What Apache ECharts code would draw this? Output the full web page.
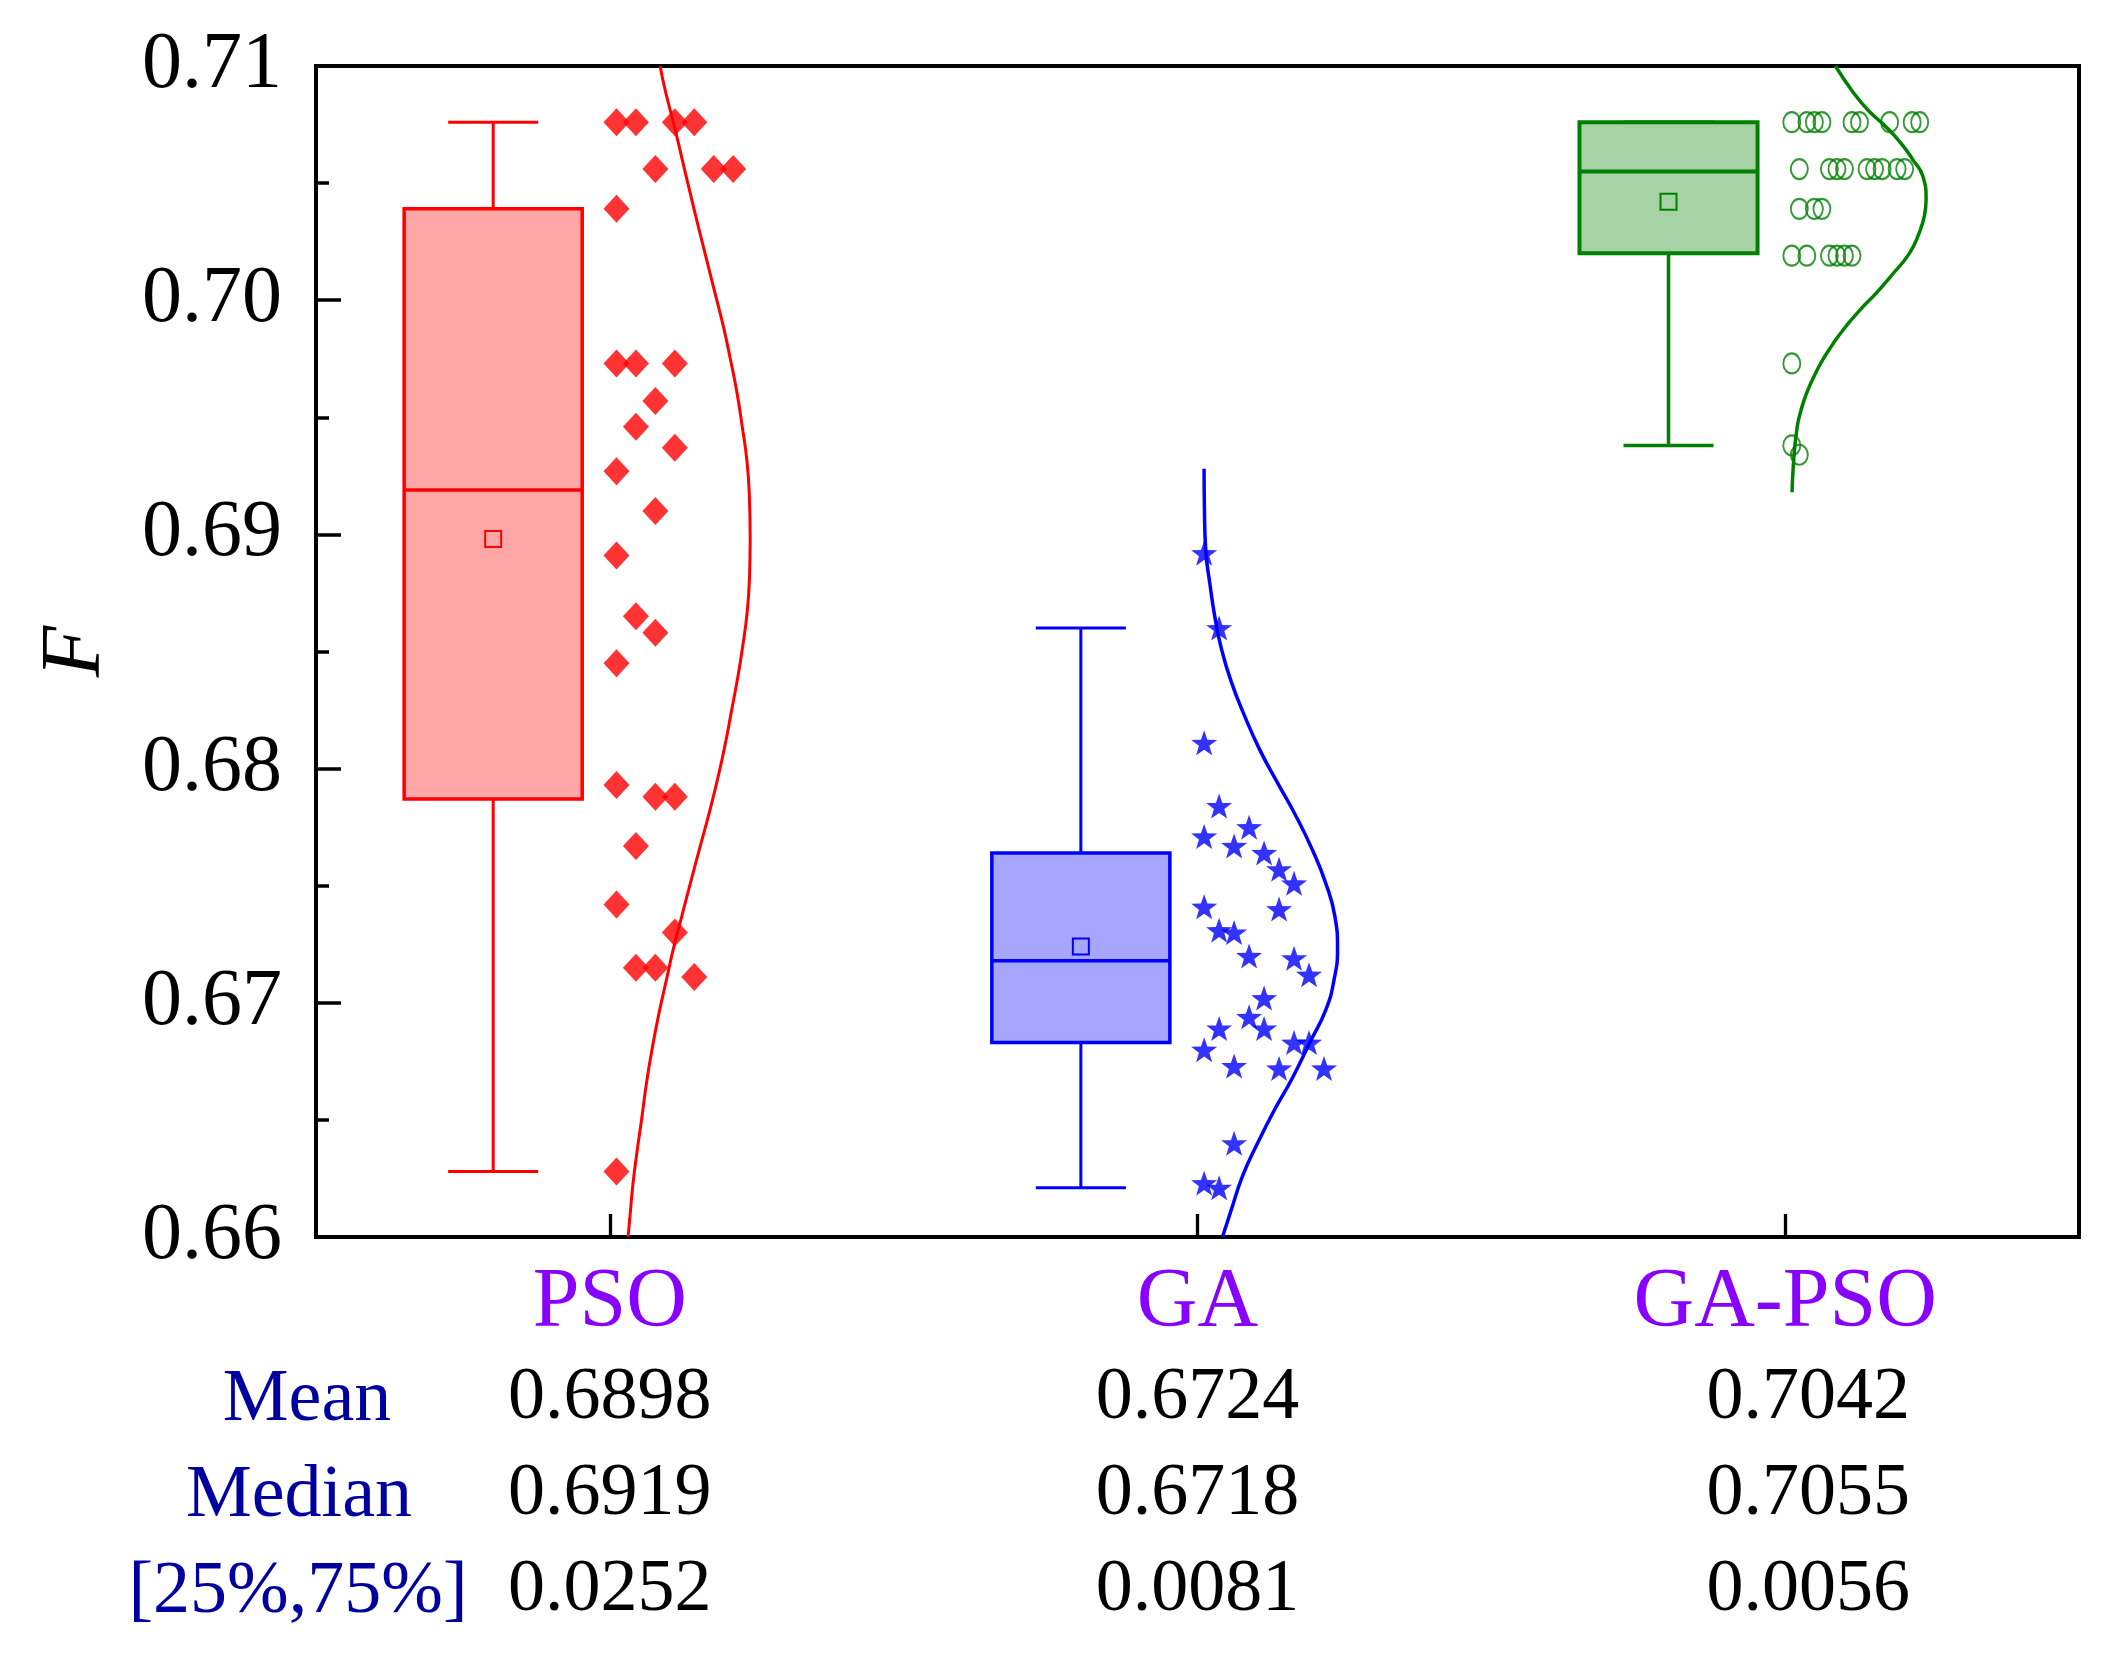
<!DOCTYPE html>
<html>
<head>
<meta charset="utf-8">
<script src="https://cdn.jsdelivr.net/npm/echarts@6/dist/echarts.min.js"></script>
<style>
html,body{margin:0;padding:0;background:#ffffff;}
#chart{width:2106px;height:1655px;}
</style>
</head>
<body>
<div id="chart"></div>
<script>
// ---------------- data ----------------
const categories = ['PSO', 'GA', 'GA-PSO'];
const yMin = 0.66, yMax = 0.71, yStep = 0.01;

const rowHeaders   = ['Mean', 'Median', '[25%,75%]'];
const meanLabels   = ['0.6898', '0.6724', '0.7042'];
const medianLabels = ['0.6919', '0.6718', '0.7055'];
const iqrLabels    = ['0.0252', '0.0081', '0.0056'];

// [min, Q1, median, Q3, max, mean]
const statsPSO   = [0.6628, 0.6787, 0.6919, 0.7039, 0.7076, 0.6898];
const statsGA    = [0.6621, 0.6683, 0.6718, 0.6764, 0.6860, 0.6724];
const statsGAPSO = [0.6938, 0.7020, 0.7055, 0.7076, 0.7076, 0.7042];

// raw points (value) and their jitter column
const pointsPSO = [0.7076,0.7076,0.7076,0.7076, 0.7056,0.7056,0.7056, 0.7039,
  0.6973,0.6973,0.6973, 0.6957, 0.6946, 0.6937, 0.6927, 0.6910, 0.6891, 0.6865,
  0.6858, 0.6845, 0.6793, 0.6788,0.6788, 0.6767, 0.6742, 0.6730, 0.6715,0.6715,
  0.6711, 0.6628];
const jitterPSO = [0,1,3,4, 2,5,6, 0, 0,1,3, 2, 1, 3, 0, 2, 0, 1, 2, 0, 0, 2,3, 1, 0, 3, 1,2, 4, 0];

const pointsGA = [0.6892,0.6860,0.6811,0.6784,0.6775,0.6771,0.6767,0.6764,0.6757,0.6751,
  0.6741,0.6740,0.6731,0.6730,0.6720,0.6719,0.6712,0.6702,0.6694,0.6689,
  0.6689,0.6683,0.6683,0.6680,0.6673,0.6672,0.6672,0.6640,0.6623,0.6621];
const jitterGA = [0,1,0,1,3,0,2,4,5,6, 0,5,1,2,3,6,7,4,3,1, 4,6,7,0,2,5,8,2,0,1];

const pointsGAPSO = [0.7076,0.7076,0.7076,0.7076,0.7076,0.7076,0.7076,0.7076,0.7076,
  0.7056,0.7056,0.7056,0.7056,0.7056,0.7056,0.7056,0.7056,0.7056,
  0.7039,0.7039,0.7039,
  0.7019,0.7019,0.7019,0.7019,0.7019,0.7019,
  0.6973, 0.6938, 0.6934];
const jitterGAPSO = [0,2,3,4,8,9,13,16,17, 1,5,6,7,10,11,12,14,15, 1,3,4, 0,2,5,6,7,8, 0, 0, 1];

// distribution curves: [value, width in category units]
const curvePSO = [[0.7100,0.0855],[0.7089,0.0948],[0.7074,0.1101],[0.7060,0.1232],[0.7046,0.1365],
  [0.7031,0.1510],[0.7017,0.1650],[0.7003,0.1790],[0.6989,0.1930],[0.6975,0.2050],[0.6961,0.2160],
  [0.6946,0.2253],[0.6932,0.2330],[0.6918,0.2372],[0.6898,0.2388],[0.6881,0.2376],[0.6867,0.2338],
  [0.6852,0.2260],[0.6838,0.2170],[0.6824,0.2066],[0.6809,0.1952],[0.6795,0.1828],[0.6781,0.1690],
  [0.6767,0.1540],[0.6752,0.1380],[0.6738,0.1235],[0.6724,0.1090],[0.6710,0.0965],[0.6696,0.0840],
  [0.6681,0.0725],[0.6666,0.0625],[0.6651,0.0545],[0.6637,0.0466],[0.6623,0.0395],[0.6608,0.0340],
  [0.6600,0.0310]];
const curveGA = [[0.6928,0.0112],[0.6911,0.0118],[0.6893,0.0141],[0.6879,0.0210],[0.6865,0.0294],
  [0.6851,0.0408],[0.6837,0.0575],[0.6822,0.0810],[0.6808,0.1060],[0.6794,0.1360],[0.6780,0.1670],
  [0.6765,0.1960],[0.6751,0.2183],[0.6737,0.2337],[0.6723,0.2383],[0.6710,0.2325],[0.6697,0.2183],
  [0.6683,0.1910],[0.6668,0.1617],[0.6654,0.1304],[0.6640,0.1021],[0.6626,0.0766],[0.6611,0.0567],
  [0.6600,0.0425]];
const curveGAPSO = [[0.7100,0.0855],[0.7089,0.1150],[0.7081,0.1416],[0.7074,0.1717],[0.7067,0.1972],
  [0.7060,0.2172],[0.7053,0.2342],[0.7043,0.2398],[0.7036,0.2369],[0.7029,0.2284],[0.7020,0.2114],
  [0.7010,0.1790],[0.7003,0.1550],[0.6996,0.1280],[0.6989,0.1040],[0.6982,0.0830],[0.6975,0.0650],
  [0.6968,0.0500],[0.6960,0.0360],[0.6953,0.0270],[0.6946,0.0205],[0.6932,0.0146],[0.6918,0.0117]];

// ---------------- layout / style ----------------
const FONT = '"Liberation Serif", "Times New Roman", serif';
const strokeColors = ['#FF0000', '#0000FF', '#008000'];
const fillColors   = ['#FFA6A6', '#A6A6FF', '#A6D2A6'];
const BOX_L = -0.350, BOX_R = -0.047, BOX_C = -0.1985, CAP_HALF = 0.0766;
const JIT0 = 0.0113;
const jitterStep = [0.0331, 0.0255, 0.0128];

const chart = echarts.init(document.getElementById('chart'), null, {renderer: 'canvas'});

function boxRender(idx, lw) {
  const col = strokeColors[idx], fill = fillColors[idx];
  return function (params, api) {
    const c = api.value(0);
    const mn = api.value(1), q1 = api.value(2), md = api.value(3),
          q3 = api.value(4), mx = api.value(5), mean = api.value(6);
    const tl = api.coord([c + BOX_L, q3]);
    const br = api.coord([c + BOX_R, q1]);
    const xc = api.coord([c + BOX_C, mn])[0];
    const capL = api.coord([c + BOX_C - CAP_HALF, mn])[0];
    const capR = api.coord([c + BOX_C + CAP_HALF, mn])[0];
    const yMn = api.coord([c, mn])[1], yMx = api.coord([c, mx])[1];
    const yMd = api.coord([c, md])[1], yMean = api.coord([c, mean])[1];
    const ls = {stroke: col, lineWidth: lw};
    return {
      type: 'group',
      children: [
        {type: 'line', shape: {x1: xc, y1: tl[1], x2: xc, y2: yMx}, style: ls},
        {type: 'line', shape: {x1: xc, y1: br[1], x2: xc, y2: yMn}, style: ls},
        {type: 'line', shape: {x1: capL, y1: yMx, x2: capR, y2: yMx}, style: ls},
        {type: 'line', shape: {x1: capL, y1: yMn, x2: capR, y2: yMn}, style: ls},
        {type: 'rect', shape: {x: tl[0], y: tl[1], width: br[0] - tl[0], height: br[1] - tl[1]},
         style: {fill: fill, stroke: col, lineWidth: lw + 0.5}},
        {type: 'line', shape: {x1: tl[0], y1: yMd, x2: br[0], y2: yMd}, style: {stroke: col, lineWidth: lw + 0.5}},
        {type: 'rect', shape: {x: xc - 8, y: yMean - 8, width: 16, height: 16},
         style: {fill: 'none', stroke: col, lineWidth: 2}}
      ]
    };
  };
}

function pointData(idx, vals, cols) {
  return vals.map((v, i) => [idx + JIT0 + cols[i] * jitterStep[idx], v]);
}
function curveData(idx, pts) {
  return pts.map(p => [idx + p[1], p[0]]);
}

const starPath = 'path://M0,-10L2.35,-3.24L9.51,-3.09L3.8,1.24L5.88,8.09L0,4L-5.88,8.09L-3.8,1.24L-9.51,-3.09L-2.35,-3.24Z';

const allStats = [statsPSO, statsGA, statsGAPSO];
const series = [];
allStats.forEach((s, i) => {
  series.push({
    type: 'custom', xAxisIndex: 1, yAxisIndex: 0, z: 2,
    renderItem: boxRender(i, i === 2 ? 3.5 : 3),
    data: [[i].concat(s)],
    silent: true
  });
});
[curvePSO, curveGA, curveGAPSO].forEach((cv, i) => {
  series.push({
    type: 'line', xAxisIndex: 1, yAxisIndex: 0, z: 3,
    data: curveData(i, cv), smooth: 0.5, symbol: 'none', showSymbol: false,
    lineStyle: {color: strokeColors[i], width: i === 0 ? 3 : 3.5}, silent: true
  });
});
series.push({
  type: 'scatter', xAxisIndex: 1, yAxisIndex: 0, z: 4,
  data: pointData(0, pointsPSO, jitterPSO), symbol: 'diamond', symbolSize: [26, 28],
  itemStyle: {color: strokeColors[0]}, silent: true
});
series.push({
  type: 'scatter', xAxisIndex: 1, yAxisIndex: 0, z: 4,
  data: pointData(1, pointsGA, jitterGA), symbol: starPath, symbolSize: [26, 25],
  itemStyle: {color: strokeColors[1]}, silent: true
});
series.push({
  type: 'scatter', xAxisIndex: 1, yAxisIndex: 0, z: 4,
  data: pointData(2, pointsGAPSO, jitterGAPSO), symbol: 'circle', symbolSize: [17, 20],
  itemStyle: {color: 'transparent', borderColor: strokeColors[2], borderWidth: 2}, silent: true
});

const option = {
  backgroundColor: '#ffffff',
  animation: false,
  grid: {left: 316, top: 66, width: 1763, height: 1171, show: true,
         borderColor: '#000', borderWidth: 4, backgroundColor: 'transparent'},
  xAxis: [
    {
      type: 'category', data: categories, boundaryGap: true, position: 'bottom',
      axisLine: {show: true, onZero: false, lineStyle: {color: '#000', width: 4}},
      axisTick: {show: true, inside: true, alignWithLabel: true, length: 23, lineStyle: {color: '#000', width: 3.3}},
      splitLine: {show: false},
      axisLabel: {
        interval: 0, margin: 20,
        formatter: function (value, index) {
          const v = index === 2 ? 'w' : 'v';
          return '{c|' + value + '}\n{' + v + '|' + meanLabels[index] + '}\n{' + v + '|' +
                 medianLabels[index] + '}\n{' + v + '|' + iqrLabels[index] + '}';
        },
        rich: {
          c: {fontSize: 84, fontFamily: FONT, color: '#8800FF', lineHeight: 94},
          v: {fontSize: 74, fontFamily: FONT, color: '#000000', lineHeight: 96},
          w: {fontSize: 74, fontFamily: FONT, color: '#000000', lineHeight: 96, padding: [0, 0, 0, 46]}
        }
      }
    },
    {type: 'value', min: -0.5, max: 2.5, show: false, axisLine: {onZero: false}}
  ],
  yAxis: {
    type: 'value', min: yMin, max: yMax, interval: yStep,
    axisLine: {show: true, onZero: false, lineStyle: {color: '#000', width: 4}},
    axisTick: {show: true, inside: true, length: 25, lineStyle: {color: '#000', width: 3.5}},
    minorTick: {show: true, splitNumber: 2, length: 13, lineStyle: {color: '#000', width: 3.5}},
    splitLine: {show: false},
    axisLabel: {fontSize: 80, fontFamily: FONT, color: '#000', margin: 34,
                formatter: v => v.toFixed(2)},
    name: 'F', nameLocation: 'middle', nameGap: 197,
    nameTextStyle: {fontSize: 84, fontStyle: 'italic', fontFamily: FONT, color: '#000'}
  },
  graphic: rowHeaders.map((t, i) => ({
    type: 'text',
    x: [307, 299, 298][i], y: 1401 + 96 * i,
    style: {text: t, font: '74px ' + FONT, fill: '#0000A0', textAlign: 'center', textVerticalAlign: 'middle'}
  })),
  series: series
};
chart.setOption(option);
</script>
</body>
</html>
